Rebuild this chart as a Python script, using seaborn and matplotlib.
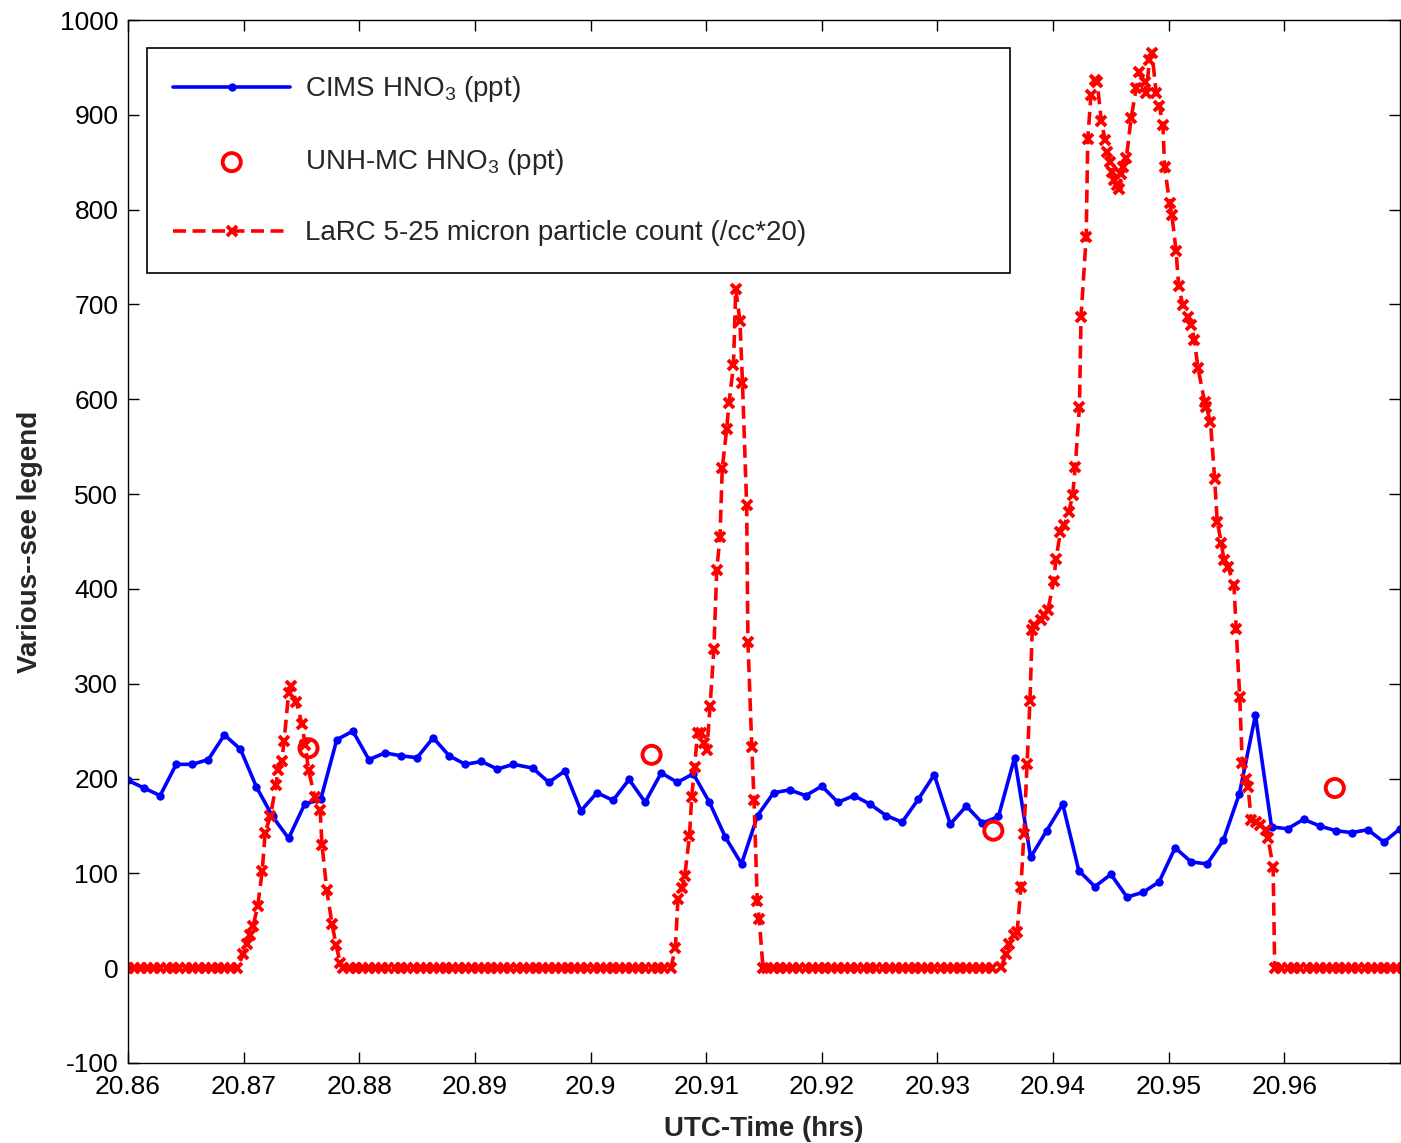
import numpy as np
import pandas as pd
import matplotlib
matplotlib.use("Agg")
import matplotlib.pyplot as plt
import seaborn as sns

T0 = 20.86  # UTC hours at the left edge; times below are seconds after T0

# CIMS HNO3 (ppt), ~5 s data
cims_sec = [0, 5, 10, 15, 20, 25, 30, 35, 40, 45, 50, 55, 60, 65, 70, 75, 80, 85, 90, 95,
            100, 105, 110, 115, 120, 126, 131, 136, 141, 146, 151, 156, 161, 166, 171, 176,
            181, 186, 191, 196, 201, 206, 211, 216, 221, 226, 231, 236, 241, 246, 251, 256,
            261, 266, 271, 276, 281, 286, 291, 296, 301, 306, 311, 316, 321, 326, 331, 336,
            341, 346, 351, 356, 361, 366, 371, 376, 381, 386, 391, 396]
cims_ppt = [198, 190, 182, 215, 215, 220, 246, 231, 191, 160, 137, 173, 178, 241, 250, 220,
            227, 224, 222, 243, 224, 215, 218, 210, 215,
            211, 196, 208, 166, 185, 177, 199, 175, 206, 196, 205, 175, 138, 110, 161, 185,
            188, 182, 192, 175, 182, 173, 161, 154,
            178, 204, 152, 171, 153, 160, 222, 117, 145, 173, 103, 86, 99, 75, 80, 91, 127,
            112, 110, 135, 184, 267, 149, 147, 157, 150, 145, 143, 146, 133, 147]

# UNH-MC HNO3 (ppt)
unh_sec = [56.2, 163.0, 269.4, 375.7]
unh_ppt = [232, 225, 145, 190]

# LaRC 5-25 micron particle count (/cc*20)
larc_base_a_sec = [0, 2, 4, 6, 8, 10, 12, 14, 16, 18, 20, 22, 24, 26, 28, 30, 32, 34]
larc_peak1_sec = [35.9, 37.0, 38.0, 39.0, 40.4, 41.8, 42.7, 44.3, 46.1, 46.7, 47.9, 48.6,
                  50.0, 50.7, 52.4, 54.1, 55.2, 56.2, 58.1, 59.8, 60.4, 61.9, 63.5, 64.8, 66.1]
larc_peak1_val = [15, 25, 35, 45, 66, 103, 143, 160, 193, 209, 219, 240,
                  290, 298, 281, 258, 235, 209, 181, 167, 130, 82, 47, 24, 5]
larc_base_b_sec = [67, 69, 71, 73, 75, 77, 79, 81, 83, 85, 87, 89, 91, 93, 95, 97, 99, 101,
                   103, 105, 107, 109, 111, 113, 115, 117, 119, 121, 123, 125, 127, 129, 131,
                   133, 135, 137, 139, 141, 143, 145, 147, 149, 151, 153, 155, 157, 159, 161,
                   163, 165, 167]
larc_peak2_sec = [169.0, 170.4, 171.2, 172.5, 173.3, 174.8, 175.5, 176.4, 177.3, 178.3,
                  179.2, 180.2, 181.2, 182.4, 183.3, 184.3, 185.0, 186.4, 187.1, 188.5,
                  189.2, 190.5, 191.3, 192.6, 193.0, 194.2, 194.9, 195.9, 196.5, 197.7]
larc_peak2_val = [0, 21, 73, 85, 97, 139, 181, 212, 248, 248,
                  237, 230, 276, 337, 420, 455, 527, 569, 596, 636,
                  716, 683, 617, 488, 344, 233, 177, 71, 52, 0]
larc_base_c_sec = [199, 201, 203, 205, 207, 209, 211, 213, 215, 217, 219, 221, 223, 225,
                   227, 229, 231, 233, 235, 237, 239, 241, 243, 245, 247, 249, 251, 253,
                   255, 257, 259, 261, 263, 265, 267, 269]
larc_peak3_sec = [271.8, 273.4, 274.4, 275.9, 276.8, 278.0, 278.9, 279.9, 280.8, 281.5,
                  282.2, 284.3, 285.2, 286.4, 288.2, 288.9, 290.3, 291.5, 292.9, 294.1,
                  294.9, 296.2, 296.7, 298.3, 298.8, 299.8, 300.9, 301.7, 303.0, 304.2,
                  304.8, 305.8, 306.4, 307.0, 308.0, 308.6, 309.2, 309.8, 310.8, 312.3,
                  313.9, 314.9, 316.5, 317.0, 318.0, 318.8, 320.1, 321.1, 322.2, 322.7,
                  324.3, 325.0, 326.3, 327.1, 328.4, 330.0, 331.0, 332.0, 333.1, 335.2,
                  335.7, 337.0, 338.3, 339.1, 340.4, 341.2, 342.5, 344.3, 345.0, 346.1,
                  346.9, 348.2, 348.7, 349.7, 351.3, 352.3, 354.4, 354.9, 356.5, 357.0]
larc_peak3_val = [1, 15, 26, 35, 38, 86, 141, 215, 282, 357,
                  362, 367, 372, 378, 408, 432, 460, 467, 481, 499,
                  529, 592, 687, 771, 875, 921, 937, 935, 894, 873,
                  861, 850, 840, 831, 826, 822, 838, 845, 854, 897,
                  928, 945, 935, 923, 958, 965, 923, 909, 889, 845,
                  807, 794, 756, 719, 699, 687, 678, 662, 633, 597,
                  592, 576, 516, 471, 448, 430, 423, 404, 358, 286,
                  216, 200, 191, 156, 154, 151, 146, 137, 107, 0]
larc_base_d_sec = [359, 361, 363, 365, 367, 369, 371, 373, 375, 377, 379, 381, 383, 385,
                   387, 389, 391, 393, 395, 397]

x_ticks = [20.86, 20.87, 20.88, 20.89, 20.90, 20.91, 20.92, 20.93, 20.94, 20.95, 20.96]
x_tick_labels = ['20.86', '20.87', '20.88', '20.89', '20.9', '20.91', '20.92', '20.93',
                 '20.94', '20.95', '20.96']
y_ticks = [-100, 0, 100, 200, 300, 400, 500, 600, 700, 800, 900, 1000]

LBL_CIMS = 'CIMS HNO$_3$ (ppt)'
LBL_UNH = 'UNH-MC HNO$_3$ (ppt)'
LBL_LARC = 'LaRC 5-25 micron particle count (/cc*20)'


def to_hrs(sec):
    return T0 + np.asarray(sec, dtype=float) / 3600.0


def main():
    df_cims = pd.DataFrame({'hrs': to_hrs(cims_sec), 'val': cims_ppt})
    df_unh = pd.DataFrame({'hrs': to_hrs(unh_sec), 'val': unh_ppt})

    larc_sec = (larc_base_a_sec + larc_peak1_sec + larc_base_b_sec + larc_peak2_sec
                + larc_base_c_sec + larc_peak3_sec + larc_base_d_sec)
    larc_val = (list(np.zeros(len(larc_base_a_sec))) + larc_peak1_val
                + list(np.zeros(len(larc_base_b_sec))) + larc_peak2_val
                + list(np.zeros(len(larc_base_c_sec))) + larc_peak3_val
                + list(np.zeros(len(larc_base_d_sec))))
    df_larc = pd.DataFrame({'hrs': to_hrs(larc_sec), 'val': larc_val})

    sns.set_style("ticks")
    plt.rcParams['font.family'] = ['Liberation Sans', 'DejaVu Sans']
    plt.rcParams['mathtext.fontset'] = 'custom'
    plt.rcParams['mathtext.rm'] = 'Liberation Sans'
    plt.rcParams['mathtext.default'] = 'regular'
    plt.rcParams['axes.unicode_minus'] = False

    fig = plt.figure(figsize=(14.01, 11.43), dpi=100)
    ax = fig.add_axes([128 / 1401, 80 / 1143, 1272 / 1401, 1043 / 1143])

    sns.lineplot(data=df_cims, x='hrs', y='val', color='#0000ff', linewidth=2.6,
                 marker='o', markersize=6, markeredgewidth=0, estimator=None, sort=False,
                 label=LBL_CIMS, ax=ax)
    sns.lineplot(data=df_larc, x='hrs', y='val', color='#ff0000', linewidth=2.6,
                 linestyle=(0, (3.6, 1.8)), marker='x', markersize=6.5,
                 markeredgewidth=2.8, markeredgecolor='#ff0000', estimator=None,
                 sort=False, label=LBL_LARC, ax=ax)
    sns.scatterplot(data=df_unh, x='hrs', y='val', marker='o', s=170, facecolors='none',
                    edgecolor='#ff0000', linewidth=2.8, label=LBL_UNH, ax=ax, zorder=5)

    ax.set_xlim(20.86, 20.97)
    ax.set_ylim(-100, 1000)
    ax.set_xticks(x_ticks)
    ax.set_xticklabels(x_tick_labels)
    ax.set_yticks(y_ticks)
    ax.tick_params(direction='in', length=8, width=1, top=True, right=True,
                   labelsize=19, colors='black')
    ax.tick_params(axis='x', pad=9)
    ax.tick_params(axis='y', pad=7)
    for sp in ax.spines.values():
        sp.set_linewidth(1.0)
        sp.set_color('black')

    ax.set_xlabel('UTC-Time (hrs)', fontsize=20, fontweight='bold', labelpad=12)
    ax.set_ylabel('Various--see legend', fontsize=20, fontweight='bold', labelpad=12)

    handles, labels = ax.get_legend_handles_labels()
    order = [labels.index(LBL_CIMS), labels.index(LBL_UNH), labels.index(LBL_LARC)]
    leg = ax.legend([handles[i] for i in order], [labels[i] for i in order],
                    loc='upper left', bbox_to_anchor=(19 / 1272, 1 - 28 / 1043, 863 / 1272, 0),
                    mode='expand', borderaxespad=0, fontsize=20, handlelength=4.2,
                    handletextpad=0.55, labelspacing=1.55, borderpad=0.95, numpoints=1,
                    scatterpoints=1, fancybox=False, framealpha=1, edgecolor='black')
    leg.get_frame().set_linewidth(1.2)

    fig.savefig('out.png', dpi=100)
    plt.close(fig)


if __name__ == '__main__':
    main()
